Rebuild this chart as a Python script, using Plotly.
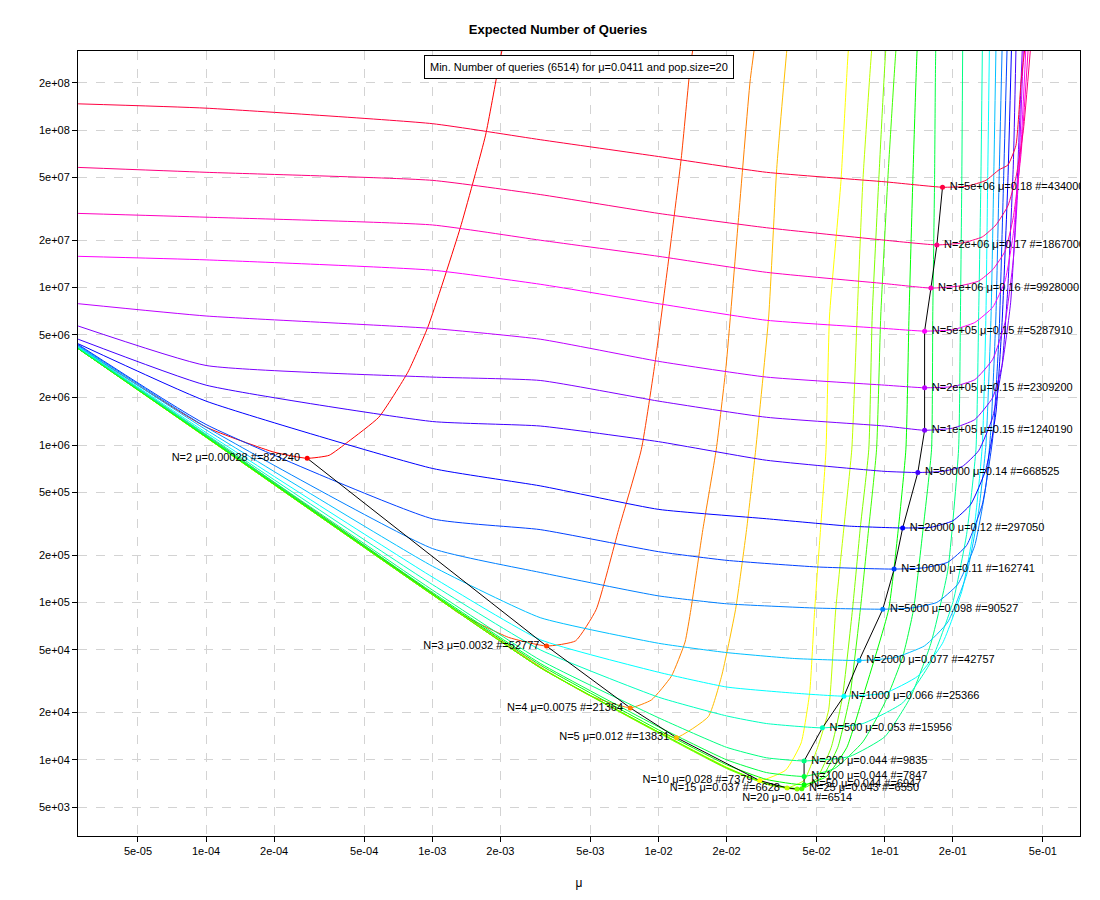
import plotly.graph_objects as go

pop_sizes = ["2", "3", "4", "5", "10", "15", "20", "25", "50", "100", "200", "500", "1000",
             "2000", "5000", "10000", "20000", "50000", "1e+05", "2e+05", "5e+05", "1e+06",
             "2e+06", "5e+06"]
min_mu = [0.00028, 0.0032, 0.0075, 0.012, 0.028, 0.037, 0.041, 0.043, 0.044, 0.044, 0.044,
          0.053, 0.066, 0.077, 0.098, 0.11, 0.12, 0.14, 0.15, 0.15, 0.15, 0.16, 0.17, 0.18]
min_q = [823240, 52777, 21364, 13831, 7379, 6628, 6514, 6550, 6947, 7847, 9835, 15956,
         25366, 42757, 90527, 162741, 297050, 668525, 1240190, 2309200, 5287910, 9928000,
         18670000, 43400000]
colors = ["#FF0000", "#FF4000", "#FF8000", "#FFBF00", "#FFFF00", "#BFFF00", "#80FF00",
          "#40FF00", "#00FF00", "#00FF40", "#00FF80", "#00FFBF", "#00FFFF", "#00BFFF",
          "#0080FF", "#0040FF", "#0000FF", "#4000FF", "#8000FF", "#BF00FF", "#FF00FF",
          "#FF00BF", "#FF0080", "#FF0040"]

# Curves (mu, expected queries)
curve_mu = [
    [2.72e-5, 1e-4, 2e-4, 2.8e-4, 3.5e-4, 4.25e-4, 5.8e-4, 7.8e-4, 9.6e-4, 1.33e-3, 1.72e-3, 1.96e-3, 2.1e-3],
    [2.72e-5, 1e-4, 1e-3, 1.3e-3, 2.17e-3, 3.2e-3, 4.3e-3, 5.3e-3, 6.66e-3, 8.4e-3, 9.7e-3, 1.11e-2, 1.26e-2, 1.38e-2, 1.45e-2],
    [2.72e-5, 1e-4, 1e-3, 3e-3, 5e-3, 7.5e-3, 9.3e-3, 1.14e-2, 1.31e-2, 1.39e-2, 1.57e-2, 1.8e-2, 1.99e-2, 2.25e-2, 2.54e-2, 2.7e-2],
    [2.72e-5, 1e-4, 1e-3, 3e-3, 1e-2, 1.2e-2, 1.66e-2, 1.9e-2, 2.19e-2, 2.45e-2, 2.69e-2, 3.07e-2, 3.33e-2, 3.69e-2, 3.8e-2],
    [2.72e-5, 1e-4, 1e-3, 3e-3, 1e-2, 2e-2, 2.8e-2, 3.65e-2, 4.27e-2, 4.66e-2, 4.9e-2, 5.2e-2, 5.5e-2, 5.7e-2, 6.4e-2, 6.9e-2, 7.1e-2],
    [2.72e-5, 1e-4, 1e-3, 3e-3, 1e-2, 2e-2, 3e-2, 3.7e-2, 4.4e-2, 5.1e-2, 5.65e-2, 6.07e-2, 6.6e-2, 7.15e-2, 7.55e-2, 8e-2, 8.75e-2, 9e-2],
    [2.72e-5, 1e-4, 1e-3, 3e-3, 1e-2, 2e-2, 3e-2, 4.1e-2, 5e-2, 5.8e-2, 6.5e-2, 7.2e-2, 7.8e-2, 8.5e-2, 8.8e-2, 9.4e-2, 0.101, 0.104],
    [2.72e-5, 1e-4, 1e-3, 3e-3, 1e-2, 2e-2, 3e-2, 4.3e-2, 5.3e-2, 6.2e-2, 7e-2, 7.8e-2, 8.5e-2, 9.2e-2, 9.6e-2, 0.103, 0.112, 0.115],
    [2.72e-5, 1e-4, 1e-3, 3e-3, 1e-2, 2e-2, 3e-2, 4.4e-2, 5.5e-2, 6.8e-2, 8e-2, 0.104, 0.115, 0.124, 0.128, 0.133, 0.139, 0.142],
    [2.72e-5, 1e-4, 1e-3, 3e-3, 1e-2, 2e-2, 3e-2, 4.4e-2, 6e-2, 8e-2, 0.1, 0.12, 0.134, 0.148, 0.161, 0.163, 0.166, 0.168, 0.17],
    [2.72e-5, 1e-4, 1e-3, 3e-3, 1e-2, 2e-2, 3e-2, 4.4e-2, 7e-2, 0.1, 0.13, 0.16, 0.19, 0.212, 0.216, 0.219, 0.221],
    [2.72e-5, 1e-4, 1e-3, 3e-3, 1e-2, 2e-2, 3e-2, 5.3e-2, 8e-2, 0.12, 0.16, 0.2, 0.23, 0.253, 0.26, 0.266, 0.27],
    [2.72e-5, 1e-4, 1e-3, 3e-3, 1e-2, 2e-2, 4e-2, 6.6e-2, 0.1, 0.14, 0.18, 0.22, 0.25, 0.27, 0.28, 0.285, 0.29],
    [2.72e-5, 1e-4, 1e-3, 3e-3, 1e-2, 2e-2, 4e-2, 7.7e-2, 0.11, 0.15, 0.19, 0.23, 0.26, 0.28, 0.295, 0.303, 0.31],
    [2.72e-5, 1e-4, 1e-3, 3e-3, 1e-2, 2e-2, 5e-2, 9.8e-2, 0.13, 0.17, 0.21, 0.25, 0.28, 0.295, 0.31, 0.32, 0.33],
    [2.72e-5, 1e-4, 1e-3, 3e-3, 1e-2, 2e-2, 5e-2, 0.11, 0.15, 0.19, 0.23, 0.27, 0.3, 0.32, 0.335, 0.347],
    [2.72e-5, 1e-4, 1e-3, 3e-3, 1e-2, 3e-2, 7e-2, 0.12, 0.16, 0.2, 0.24, 0.28, 0.31, 0.33, 0.35, 0.363],
    [2.72e-5, 1e-4, 1e-3, 3e-3, 1e-2, 3e-2, 0.1, 0.14, 0.18, 0.22, 0.26, 0.3, 0.33, 0.35, 0.37, 0.38],
    [2.72e-5, 1e-4, 1e-3, 3e-3, 1e-2, 3e-2, 0.1, 0.15, 0.2, 0.25, 0.3, 0.33, 0.36, 0.38, 0.395, 0.405],
    [2.72e-5, 1e-4, 1e-3, 3e-3, 1e-2, 3e-2, 0.1, 0.15, 0.2, 0.25, 0.3, 0.34, 0.37, 0.39, 0.41],
    [2.72e-5, 1e-4, 1e-3, 3e-3, 1e-2, 3e-2, 0.1, 0.15, 0.2, 0.25, 0.3, 0.34, 0.37, 0.4, 0.42],
    [2.72e-5, 1e-4, 1e-3, 3e-3, 1e-2, 3e-2, 0.1, 0.16, 0.21, 0.26, 0.3, 0.34, 0.37, 0.4, 0.43],
    [2.72e-5, 1e-4, 1e-3, 3e-3, 1e-2, 3e-2, 0.1, 0.17, 0.22, 0.27, 0.31, 0.35, 0.38, 0.41, 0.44],
    [2.72e-5, 1e-4, 1e-3, 3e-3, 1e-2, 3e-2, 0.1, 0.18, 0.23, 0.28, 0.32, 0.35, 0.38, 0.4, 0.415],
]
curve_q = [
    [4.2e6, 1.3e6, 9.0e5, 8.23e5, 8.6e5, 1.05e6, 1.5e6, 2.9e6, 5.7e6, 2.4e7, 9.3e7, 2.5e8, 4e8],
    [4.15e6, 1.16e6, 1.14e5, 8.6e4, 6.0e4, 5.28e4, 5.7e4, 9.0e4, 2.9e5, 9.4e5, 3.5e6, 1.53e7, 6.6e7, 2.5e8, 4e8],
    [4.1e6, 1.13e6, 1.13e5, 3.9e4, 2.55e4, 2.14e4, 2.4e4, 3.4e4, 5.6e4, 9.0e4, 2.9e5, 9.4e5, 3.2e6, 2.6e7, 2.05e8, 4e8],
    [4.1e6, 1.12e6, 1.12e5, 3.85e4, 1.5e4, 1.383e4, 1.88e4, 3.4e4, 9.0e4, 2.9e5, 9.4e5, 6.6e6, 5.7e7, 3.2e8, 4.5e8],
    [4.1e6, 1.12e6, 1.12e5, 3.85e4, 1.5e4, 9.0e3, 7.38e3, 8.6e3, 1.28e4, 2.7e4, 9.0e4, 2.9e5, 9.4e5, 6.6e6, 4.7e7, 3.2e8, 4.5e8],
    [4.1e6, 1.12e6, 1.12e5, 3.85e4, 1.5e4, 8.9e3, 7.0e3, 6.63e3, 7.4e3, 1.25e4, 2.08e4, 9.0e4, 3.0e5, 9.4e5, 6.6e6, 4.7e7, 3.2e8, 4.5e8],
    [4.1e6, 1.12e6, 1.12e5, 3.85e4, 1.48e4, 8.8e3, 7.0e3, 6.514e3, 7.6e3, 1.2e4, 2.5e4, 9.0e4, 3.0e5, 9.4e5, 6.6e6, 4.7e7, 3.2e8, 4.5e8],
    [4.1e6, 1.12e6, 1.12e5, 3.85e4, 1.5e4, 8.9e3, 7.1e3, 6.55e3, 7.8e3, 1.2e4, 2.5e4, 9.0e4, 3.0e5, 9.4e5, 6.6e6, 4.7e7, 3.2e8, 4.5e8],
    [4.1e6, 1.13e6, 1.14e5, 4.0e4, 1.55e4, 9.3e3, 7.5e3, 6.947e3, 7.8e3, 1.2e4, 2.5e4, 9.0e4, 3.0e5, 9.4e5, 6.6e6, 4.7e7, 3.2e8, 4.5e8],
    [4.1e6, 1.14e6, 1.16e5, 4.1e4, 1.62e4, 1.0e4, 8.3e3, 7.847e3, 8.8e3, 1.3e4, 2.3e4, 4.5e4, 9.0e4, 3.0e5, 9.4e5, 6.6e6, 4.7e7, 3.2e8, 4.5e8],
    [4.15e6, 1.15e6, 1.2e5, 4.3e4, 1.85e4, 1.2e4, 1.03e4, 9.835e3, 1.05e4, 1.4e4, 2.5e4, 5.5e4, 1.6e5, 9.4e5, 6.6e6, 4.7e7, 3.2e8],
    [4.2e6, 1.17e6, 1.3e5, 5.0e4, 2.5e4, 1.9e4, 1.7e4, 1.5956e4, 1.7e4, 2.3e4, 4.2e4, 1.0e5, 2.7e5, 9.4e5, 6.6e6, 4.7e7, 3.2e8],
    [4.2e6, 1.2e6, 1.45e5, 5.8e4, 3.6e4, 2.9e4, 2.65e4, 2.5366e4, 2.65e4, 3.4e4, 5.5e4, 1.2e5, 3.2e5, 1.0e6, 6.6e6, 4.7e7, 3.2e8],
    [4.25e6, 1.25e6, 1.7e5, 8.0e4, 5.5e4, 4.8e4, 4.4e4, 4.2757e4, 4.45e4, 5.3e4, 7.5e4, 1.5e5, 3.8e5, 1.0e6, 6.6e6, 4.7e7, 3.2e8],
    [4.3e6, 1.3e6, 2.2e5, 1.55e5, 1.1e5, 9.8e4, 9.2e4, 9.0527e4, 9.2e4, 1.0e5, 1.3e5, 2.3e5, 5.5e5, 1.3e6, 6.6e6, 4.7e7, 3.2e8],
    [4.35e6, 1.35e6, 3.4e5, 2.9e5, 2.1e5, 1.85e5, 1.68e5, 1.62741e5, 1.66e5, 1.8e5, 2.3e5, 4.2e5, 1.1e6, 5.0e6, 4.7e7, 3.2e8],
    [4.4e6, 1.9e6, 7.1e5, 5.5e5, 3.9e5, 3.4e5, 3.05e5, 2.9705e5, 3.0e5, 3.3e5, 4.2e5, 7.0e5, 1.6e6, 6.0e6, 4.7e7, 3.2e8],
    [4.7e6, 2.4e6, 1.41e6, 1.32e6, 1.05e6, 8.0e5, 6.8e5, 6.68525e5, 6.8e5, 7.3e5, 9.2e5, 1.5e6, 3.2e6, 1.0e7, 6.0e7, 3.2e8],
    [5.7e6, 3.2e6, 2.7e6, 2.57e6, 1.9e6, 1.5e6, 1.32e6, 1.24019e6, 1.28e6, 1.45e6, 2.0e6, 3.2e6, 8.0e6, 3.0e7, 1.2e8, 3.2e8],
    [7.9e6, 6.6e6, 5.5e6, 4.7e6, 3.4e6, 2.7e6, 2.4e6, 2.3092e6, 2.35e6, 2.6e6, 3.5e6, 6.0e6, 1.5e7, 5.0e7, 3.2e8],
    [1.58e7, 1.5e7, 1.29e7, 1.05e7, 7.9e6, 6.2e6, 5.5e6, 5.28791e6, 5.4e6, 6.0e6, 7.5e6, 1.1e7, 2.2e7, 8.0e7, 3.2e8],
    [2.96e7, 2.8e7, 2.5e7, 2.0e7, 1.58e7, 1.25e7, 1.06e7, 9.928e6, 1.02e7, 1.1e7, 1.3e7, 1.7e7, 2.8e7, 7.0e7, 3.2e8],
    [5.8e7, 5.4e7, 4.8e7, 3.9e7, 2.96e7, 2.4e7, 2.0e7, 1.867e7, 1.92e7, 2.1e7, 2.5e7, 3.3e7, 5.0e7, 1.0e8, 3.2e8],
    [1.47e8, 1.38e8, 1.1e8, 8.7e7, 6.8e7, 5.4e7, 4.7e7, 4.34e7, 4.4e7, 4.8e7, 5.6e7, 6.0e7, 8.0e7, 2.0e8, 3.2e8],
]

mu_labels = ["0.00028", "0.0032", "0.0075", "0.012", "0.028", "0.037", "0.041", "0.043",
             "0.044", "0.044", "0.044", "0.053", "0.066", "0.077", "0.098", "0.11", "0.12",
             "0.14", "0.15", "0.15", "0.15", "0.16", "0.17", "0.18"]
left_labels = 6  # first labels drawn to the left of their point

x_ticks = [5e-5, 1e-4, 2e-4, 5e-4, 1e-3, 2e-3, 5e-3, 1e-2, 2e-2, 5e-2, 1e-1, 2e-1, 5e-1]
x_tick_text = ["5e-05", "1e-04", "2e-04", "5e-04", "1e-03", "2e-03", "5e-03", "1e-02",
               "2e-02", "5e-02", "1e-01", "2e-01", "5e-01"]
y_ticks = [5e3, 1e4, 2e4, 5e4, 1e5, 2e5, 5e5, 1e6, 2e6, 5e6, 1e7, 2e7, 5e7, 1e8, 2e8]
y_tick_text = ["5e+03", "1e+04", "2e+04", "5e+04", "1e+05", "2e+05", "5e+05", "1e+06",
               "2e+06", "5e+06", "1e+07", "2e+07", "5e+07", "1e+08", "2e+08"]

FONT = "Liberation Sans, Arial, sans-serif"
fig = go.Figure()
for i in range(len(pop_sizes)):
    fig.add_trace(go.Scatter(x=curve_mu[i], y=curve_q[i], mode="lines",
                             line=dict(color=colors[i], width=1, shape="spline", smoothing=0.45),
                             hoverinfo="skip", showlegend=False))

fig.add_trace(go.Scatter(x=min_mu, y=min_q, mode="lines", line=dict(color="black", width=1),
                         showlegend=False, hoverinfo="skip"))

for i in range(len(pop_sizes)):
    label = f"N={pop_sizes[i]} \u03bc={mu_labels[i]} #={min_q[i]}"
    if i == 6:
        pos = "bottom center"
    elif i < left_labels:
        pos = "middle left"
    else:
        pos = "middle right"
    fig.add_trace(go.Scatter(x=[min_mu[i]], y=[min_q[i]], mode="markers+text",
                             marker=dict(color=colors[i], size=5),
                             text=[" " + label + " " if pos != "bottom center" else label],
                             textposition=pos, cliponaxis=True,
                             textfont=dict(family=FONT, size=11, color="black"),
                             showlegend=False, hoverinfo="skip"))

fig.add_annotation(text="Min. Number of queries (6514) for \u03bc=0.0411 and pop.size=20",
                   x=0.5, y=0.995, xref="paper", yref="paper", xanchor="center", yanchor="top",
                   showarrow=False, bordercolor="black", borderwidth=1, borderpad=5,
                   bgcolor="white", font=dict(family=FONT, size=11, color="black"))

axis_common = dict(type="log", showline=True, linecolor="black", linewidth=1, mirror=True,
                   ticks="outside", ticklen=5, tickcolor="black", showgrid=True,
                   gridcolor="#D3D3D3", griddash="dash", zeroline=False, automargin=False,
                   tickfont=dict(family=FONT, size=11, color="black"))
fig.update_xaxes(range=[-4.566, -0.137], tickvals=x_ticks, ticktext=x_tick_text,
                 title=dict(text="\u03bc", font=dict(family=FONT, size=12, color="black"), standoff=22),
                 **axis_common)
fig.update_yaxes(range=[3.516, 8.503], tickvals=y_ticks, ticktext=y_tick_text, **axis_common)

fig.update_layout(width=1100, height=900, margin=dict(l=70, r=28, t=43, b=72, autoexpand=False),
                  plot_bgcolor="white", paper_bgcolor="white",
                  title=dict(text="<b>Expected Number of Queries</b>", x=0.5, xanchor="center",
                             y=0.976, yanchor="middle",
                             font=dict(family=FONT, size=13, color="black")))
fig.write_html("out.html")
